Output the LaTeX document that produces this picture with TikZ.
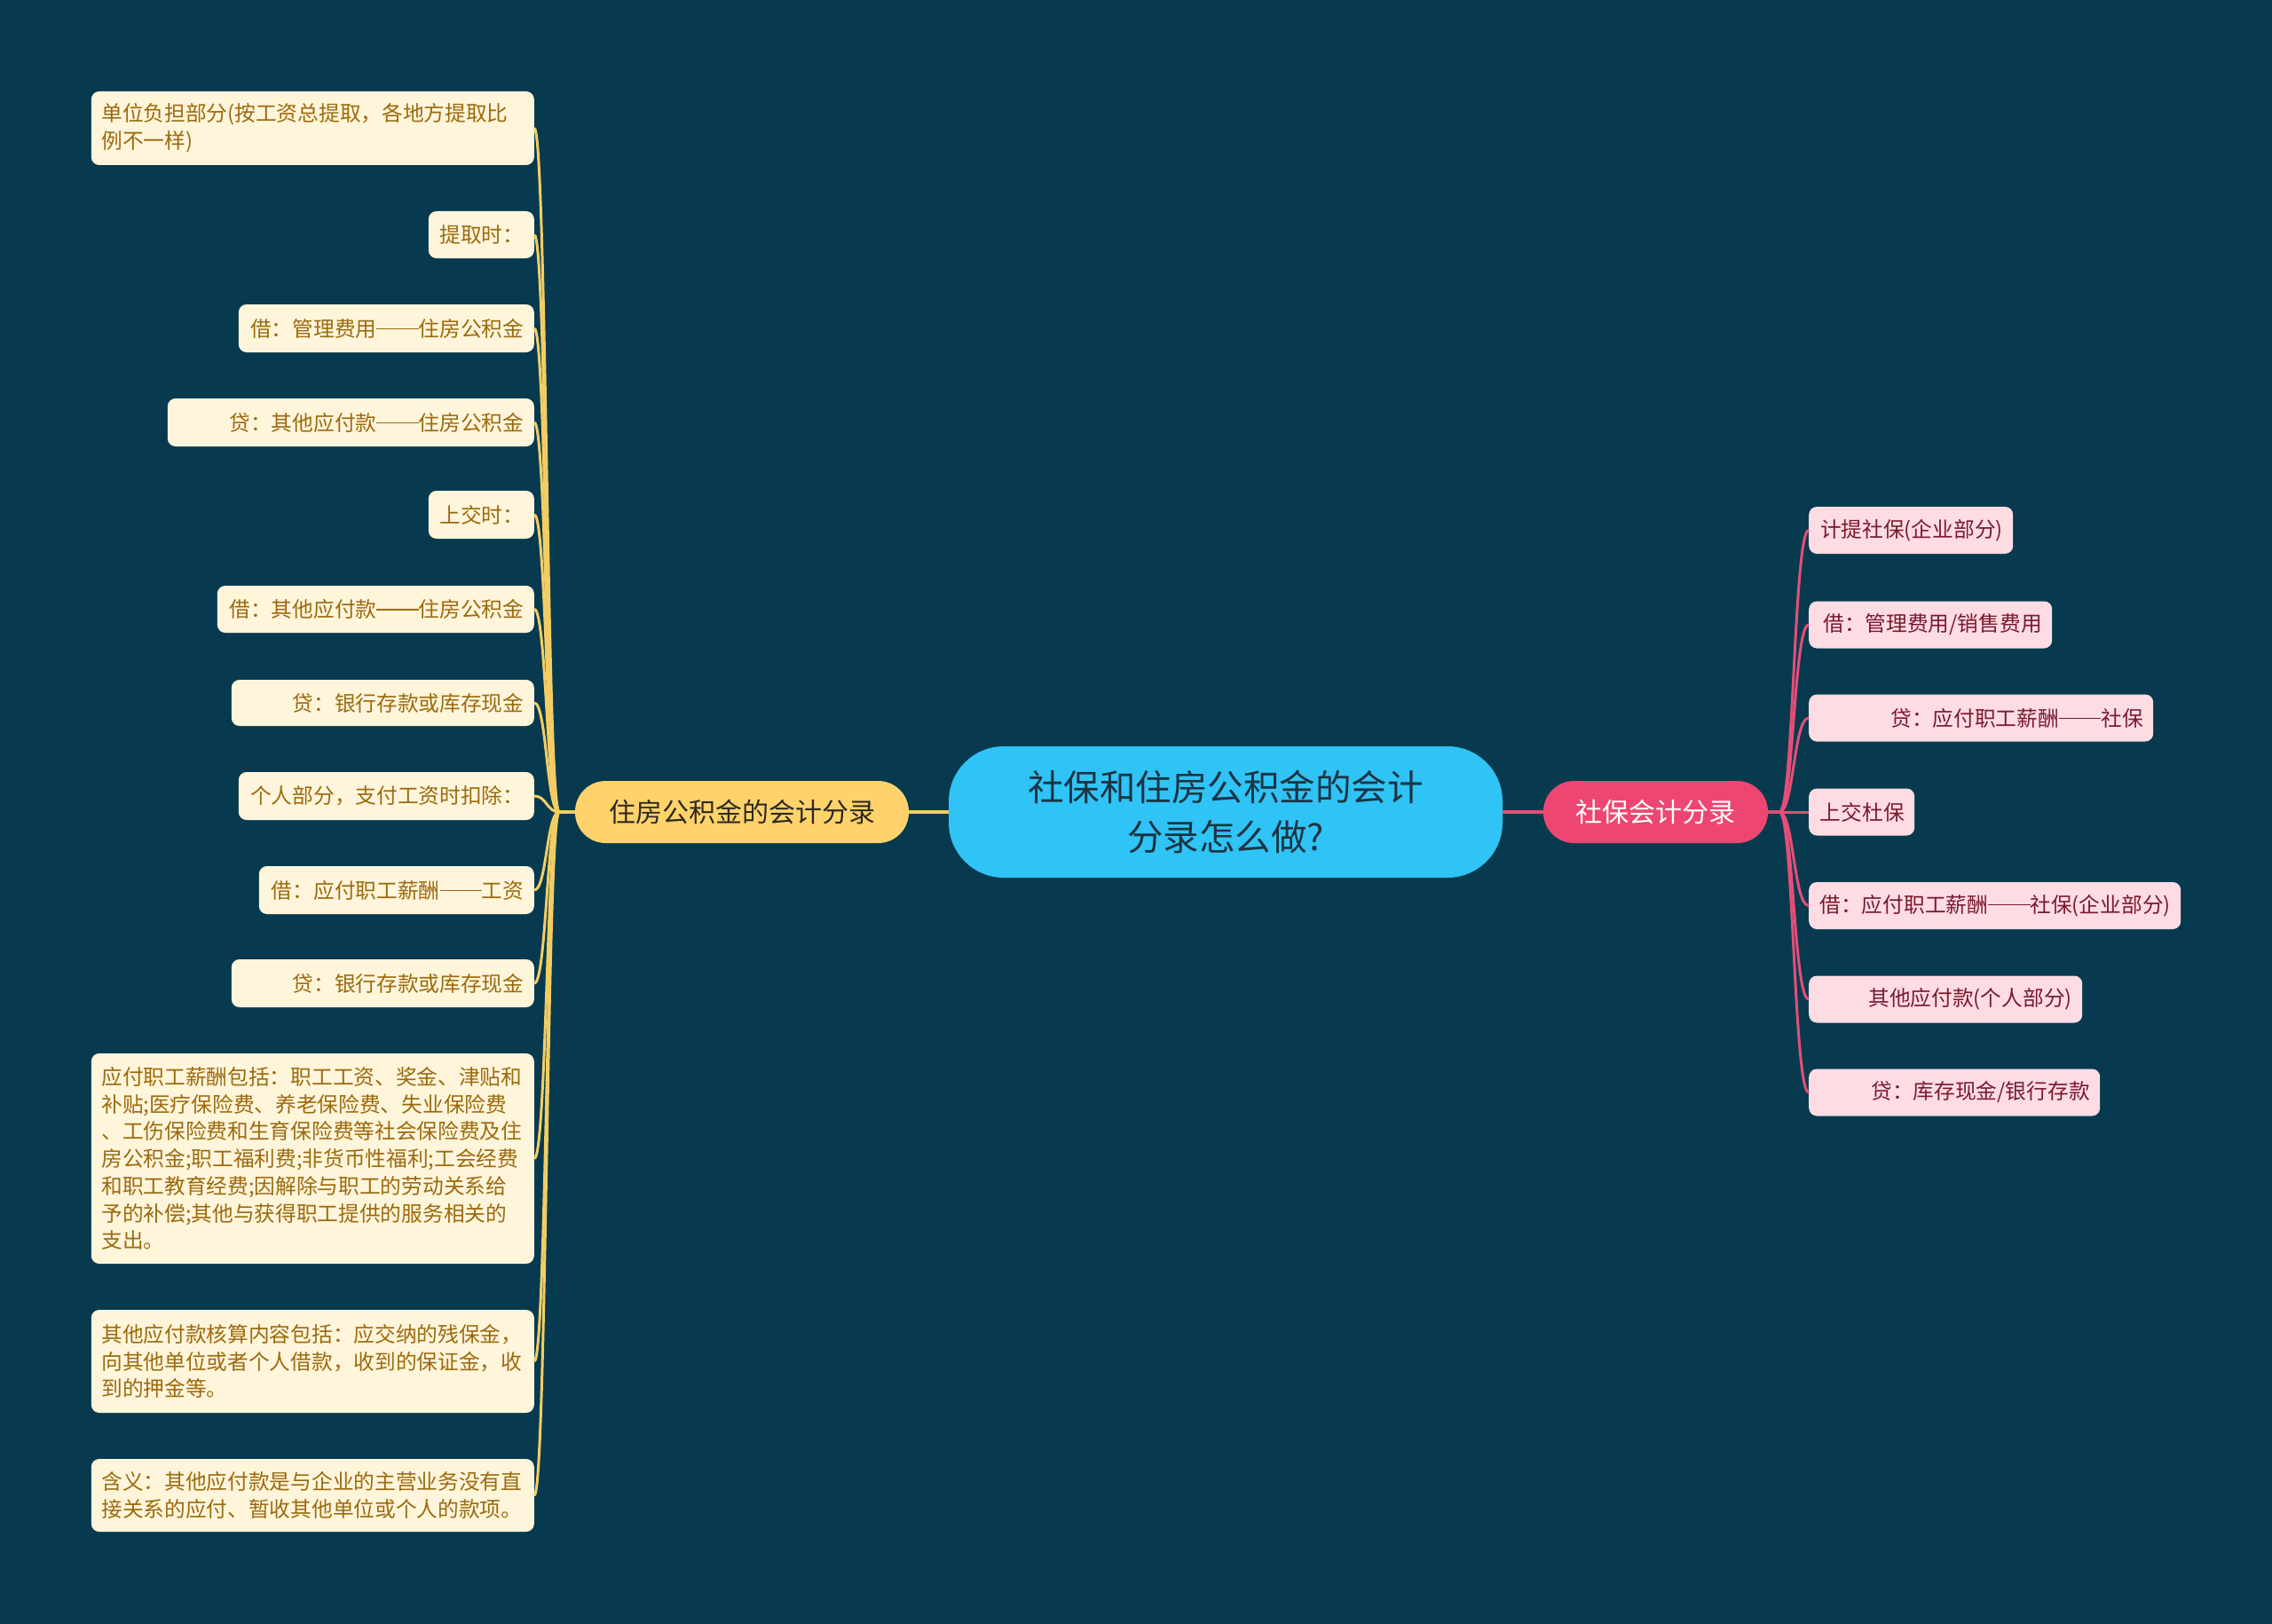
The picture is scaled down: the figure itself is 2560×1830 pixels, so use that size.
\documentclass[tikz,border=0pt]{standalone}
\usepackage{fontspec}
\setmainfont{Noto Sans CJK SC}
\definecolor{bg}{HTML}{073A4F}
\definecolor{cfill}{HTML}{30C3F5}
\definecolor{ctext}{HTML}{1B3443}
\definecolor{yfill}{HTML}{FFD36B}
\definecolor{ytext}{HTML}{2E2A1E}
\definecolor{pfill}{HTML}{EE4672}
\definecolor{lfill}{HTML}{FFF5DB}
\definecolor{ltext}{HTML}{9C6A0E}
\definecolor{rfill}{HTML}{FDDCE3}
\definecolor{rtext}{HTML}{7A1A2E}
\definecolor{yline}{HTML}{F3CD63}
\definecolor{pline}{HTML}{E44E77}
\newcommand\dblDash{\rule[0.33em]{2em}{0.06em}}
\tikzset{
  leafL/.style={fill=lfill, text=ltext, rounded corners=9pt, anchor=east, inner xsep=11.5pt, inner ysep=0pt, font=\fontsize{23.7}{30.75}\selectfont, align=right},
  leafLm/.style={leafL, align=left},
  leafR/.style={fill=rfill, text=rtext, rounded corners=9pt, anchor=west, inner xsep=11.5pt, inner ysep=0pt, font=\fontsize{23.7}{30.75}\selectfont, align=right, minimum height=53pt},
  ylink/.style={draw=yline, line width=3pt},
  plink/.style={draw=pline, line width=3pt},
  mainbox/.style={inner sep=0pt, minimum height=70pt, rounded corners=34.5pt, font=\fontsize{30}{36}\selectfont},
}
\begin{document}
\begin{tikzpicture}[x=1pt,y=-1pt]
\useasboundingbox (0,0) rectangle (2560,1830);
\fill[bg] (0,0) rectangle (2560,1830);

% central
\node[fill=cfill, text=ctext, rounded corners=62pt, minimum width=624pt, minimum height=148pt, inner sep=0pt, align=center, font=\fontsize{40.5}{55.5}\selectfont] (c) at (1381,915) {社保和住房公积金的会计\\分录怎么做?};

% main branches
\node[mainbox, fill=yfill, text=ytext, minimum width=376pt] (mL) at (836,915) {住房公积金的会计分录};
\node[mainbox, fill=pfill, text=white, minimum width=253pt] (mR) at (1865.5,915) {社保会计分录};

\draw[yline, line width=4pt] (c.west) -- (mL.east);
\draw[pline, line width=4pt] (c.east) -- (mR.west);

% left leaves
\node[leafLm, text width=476pt, minimum height=83pt] (l1) at (602,144.5) {单位负担部分(按工资总提取，各地方提取比\\例不一样)};
\node[leafL, text width=96pt, minimum height=53pt] (l2) at (602,264.5) {提取时：};
\node[leafL, text width=310pt, minimum height=54pt] (l3) at (602,370) {借：管理费用\dblDash 住房公积金};
\node[leafL, text width=390pt, minimum height=54pt] (l4) at (602,476) {贷：其他应付款\dblDash 住房公积金};
\node[leafL, text width=96pt, minimum height=54pt] (l5) at (602,580) {上交时：};
\node[leafL, text width=334pt, minimum height=53pt] (l6) at (602,686.5) {借：其他应付款\dblDash 住房公积金};
\node[leafL, text width=318pt, minimum height=52pt] (l7) at (602,792) {贷：银行存款或库存现金};
\node[leafL, text width=310pt, minimum height=54pt] (l8) at (602,897) {个人部分，支付工资时扣除：};
\node[leafL, text width=287pt, minimum height=54pt] (l9) at (602,1003) {借：应付职工薪酬\dblDash 工资};
\node[leafL, text width=318pt, minimum height=54pt] (l10) at (602,1108) {贷：银行存款或库存现金};
\node[leafLm, text width=476pt, minimum height=237pt] (l11) at (602,1305.5) {应付职工薪酬包括：职工工资、奖金、津贴和\\补贴;医疗保险费、养老保险费、失业保险费\\、工伤保险费和生育保险费等社会保险费及住\\房公积金;职工福利费;非货币性福利;工会经费\\和职工教育经费;因解除与职工的劳动关系给\\予的补偿;其他与获得职工提供的服务相关的\\支出。};
\node[leafLm, text width=476pt, minimum height=116pt] (l12) at (602,1534) {其他应付款核算内容包括：应交纳的残保金，\\向其他单位或者个人借款，收到的保证金，收\\到的押金等。};
\node[leafLm, text width=476pt, minimum height=82pt] (l13) at (602,1685) {含义：其他应付款是与企业的主营业务没有直\\接关系的应付、暂收其他单位或个人的款项。};

% right leaves
\node[leafR, text width=207pt] (r1) at (2038,597.5) {计提社保(企业部分)};
\node[leafR, text width=251pt] (r2) at (2038,704) {借：管理费用/销售费用};
\node[leafR, text width=365pt] (r3) at (2038,809) {贷：应付职工薪酬\dblDash 社保};
\node[leafR, text width=96pt] (r4) at (2038,915) {上交杜保};
\node[leafR, text width=396pt] (r5) at (2038,1020.5) {借：应付职工薪酬\dblDash 社保(企业部分)};
\node[leafR, text width=285pt] (r6) at (2038,1126) {其他应付款(个人部分)};
\node[leafR, text width=305pt] (r7) at (2038,1231) {贷：库存现金/银行存款};

% connectors
\coordinate (sl) at (630,915);
\coordinate (tl) at (616,915);
\coordinate (sr) at (2005,915);
\coordinate (tr) at (2021,915);
\foreach \n in {l1,l2,l3,l4,l5,l6,l7,l8,l9,l10,l11,l12,l13}
  \draw[ylink] (mL.west) -- (sl) .. controls (tl) and (tl |- \n.east) .. (\n.east);
\foreach \n in {r1,r2,r3,r4,r5,r6,r7}
  \draw[plink] (mR.east) -- (sr) .. controls (tr) and (tr |- \n.west) .. (\n.west);
\end{tikzpicture}
\end{document}
